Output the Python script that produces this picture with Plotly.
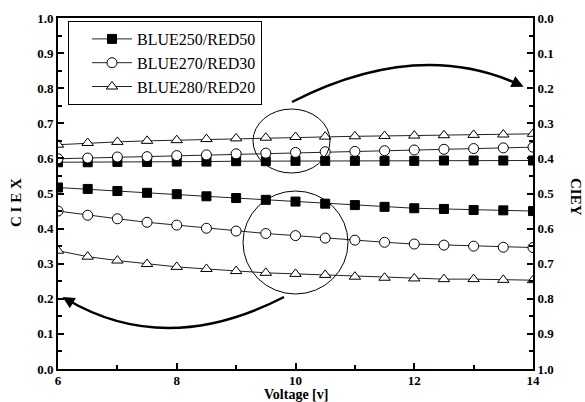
import plotly.graph_objects as go

# ---------------- data ----------------
voltage = [6, 6.5, 7, 7.5, 8, 8.5, 9, 9.5, 10, 10.5, 11, 11.5, 12, 12.5, 13, 13.5, 14]
series_names = ["BLUE250/RED50", "BLUE270/RED30", "BLUE280/RED20"]

cie_x_250 = [0.517, 0.513, 0.507, 0.502, 0.498, 0.492, 0.487, 0.482, 0.477,
             0.471, 0.467, 0.462, 0.458, 0.456, 0.453, 0.452, 0.450]
cie_x_270 = [0.450, 0.438, 0.428, 0.418, 0.410, 0.401, 0.393, 0.386, 0.380,
             0.373, 0.367, 0.361, 0.356, 0.353, 0.350, 0.347, 0.346]
cie_x_280 = [0.337, 0.320, 0.309, 0.299, 0.291, 0.285, 0.279, 0.274, 0.271,
             0.268, 0.263, 0.260, 0.258, 0.256, 0.256, 0.254, 0.253]

cie_y_250 = [0.411, 0.411, 0.410, 0.410, 0.409, 0.409, 0.408, 0.408, 0.407,
             0.407, 0.407, 0.407, 0.407, 0.406, 0.406, 0.406, 0.406]
cie_y_270 = [0.401, 0.399, 0.396, 0.395, 0.392, 0.390, 0.387, 0.385, 0.383,
             0.381, 0.380, 0.378, 0.376, 0.374, 0.372, 0.370, 0.368]
cie_y_280 = [0.361, 0.356, 0.353, 0.350, 0.348, 0.345, 0.343, 0.341, 0.339,
             0.338, 0.337, 0.336, 0.335, 0.334, 0.333, 0.332, 0.330]

x_ticks = [6, 8, 10, 12, 14]
y_ticks = [0.0, 0.1, 0.2, 0.3, 0.4, 0.5, 0.6, 0.7, 0.8, 0.9, 1.0]

# ---------------- layout geometry ----------------
W, H = 585, 402
ML, MR, MT, MB = 58, 52, 18, 33
XR = (6, 14)
YR = (0, 1)
PW, PH = W - ML - MR, H - MT - MB


def px_x(px):
    return XR[0] + (px - ML) / PW * (XR[1] - XR[0])


def px_y(py):
    return YR[0] + (H - MB - py) / PH * (YR[1] - YR[0])


FONT = "Times New Roman, Liberation Serif, serif"

symbols = [
    dict(symbol="square", size=9, color="black", line=dict(color="black", width=1)),
    dict(symbol="circle", size=10, color="white", line=dict(color="black", width=1)),
    dict(symbol="triangle-up", size=10, color="white", line=dict(color="black", width=1)),
]

fig = go.Figure()
line_style = dict(color="#222222", width=1)

for name, ys, mk in zip(series_names, [cie_x_250, cie_x_270, cie_x_280], symbols):
    fig.add_trace(go.Scatter(x=voltage, y=ys, mode="lines+markers", name=name,
                             line=line_style, marker=mk, yaxis="y"))
for name, ys, mk in zip(series_names, [cie_y_250, cie_y_270, cie_y_280], symbols):
    fig.add_trace(go.Scatter(x=voltage, y=ys, mode="lines+markers", name=name,
                             line=line_style, marker=mk, yaxis="y2", showlegend=False))

tickfont = dict(family=FONT, size=13, color="black", weight="bold")

fig.update_layout(
    width=W, height=H,
    margin=dict(l=ML, r=MR, t=MT, b=MB, pad=0),
    paper_bgcolor="white", plot_bgcolor="white",
    font=dict(family=FONT, color="black"),
    xaxis=dict(range=list(XR), tickvals=x_ticks, ticks="inside", ticklen=6,
               tickwidth=1.5, tickcolor="black", showline=True, linewidth=2,
               linecolor="black", mirror=True, showgrid=False, zeroline=False,
               tickfont=tickfont, ticklabelstandoff=-2,
               minor=dict(dtick=1, tick0=6, ticks="inside", ticklen=4,
                          tickwidth=1.5, tickcolor="black", showgrid=False)),
    yaxis=dict(range=list(YR), tickvals=y_ticks, tickformat=".1f", ticks="inside",
               ticklen=6, tickwidth=1.5, tickcolor="black", showline=True,
               linewidth=2, linecolor="black", showgrid=False, zeroline=False,
               tickfont=tickfont,
               minor=dict(dtick=0.05, tick0=0, ticks="inside", ticklen=4,
                          tickwidth=1.5, tickcolor="black", showgrid=False)),
    yaxis2=dict(range=[1, 0], tickvals=y_ticks, tickformat=".1f", overlaying="y",
                side="right", ticks="inside", ticklen=6, tickwidth=1.5,
                tickcolor="black", showline=True, linewidth=2, linecolor="black",
                showgrid=False, zeroline=False, tickfont=tickfont,
                minor=dict(dtick=0.05, tick0=0, ticks="inside", ticklen=4,
                           tickwidth=1.5, tickcolor="black", showgrid=False)),
    legend=dict(x=(68 - ML) / PW, y=(H - MB - 21) / PH,
                xanchor="left", yanchor="top", bgcolor="white",
                bordercolor="black", borderwidth=1,
                font=dict(family=FONT, size=16, color="black"),
                itemwidth=40, tracegroupgap=0, indentation=18),
    showlegend=True,
)

# ellipses
fig.add_shape(type="circle", xref="x", yref="y",
              x0=px_x(253), x1=px_x(330), y0=px_y(173), y1=px_y(109),
              line=dict(color="black", width=1))
fig.add_shape(type="circle", xref="x", yref="y",
              x0=px_x(243), x1=px_x(348), y0=px_y(294), y1=px_y(191),
              line=dict(color="black", width=1))


# curved arrows (quadratic bezier)
def curve(p0, p1, p2):
    return "M {},{} Q {},{} {},{}".format(px_x(p0[0]), px_y(p0[1]),
                                          px_x(p1[0]), px_y(p1[1]),
                                          px_x(p2[0]), px_y(p2[1]))


up = ((292, 102), (418, 38), (520, 85))
lo = ((284, 297), (166, 358), (66, 299))
for p0, p1, p2 in (up, lo):
    fig.add_shape(type="path", xref="x", yref="y", path=curve(p0, p1, p2),
                  line=dict(color="black", width=2.5))
    dx, dy = p2[0] - p1[0], p2[1] - p1[1]
    n = (dx * dx + dy * dy) ** 0.5
    fig.add_annotation(x=px_x(p2[0] + dx / n * 4), y=px_y(p2[1] + dy / n * 4),
                       xref="x", yref="y", ax=-dx / n * 12, ay=-dy / n * 12,
                       axref="pixel", ayref="pixel", text="", showarrow=True,
                       arrowhead=2, arrowsize=1.2, arrowwidth=2, arrowcolor="black")

# axis titles
fig.add_annotation(text="Voltage [v]", xref="paper", yref="paper", x=0.5, y=0,
                   yanchor="middle", yshift=-25.5, showarrow=False, borderpad=0,
                   font=dict(family=FONT, size=14, weight="bold", color="black"))
fig.add_annotation(text="C I E X", xref="paper", yref="paper", x=0, y=(H - MB - 203) / PH,
                   xanchor="center", yanchor="middle", xshift=-(ML - 16), textangle=-90,
                   showarrow=False,
                   font=dict(family=FONT, size=15, weight="bold", color="black"))
fig.add_annotation(text="CIEY", xref="paper", yref="paper", x=1, y=(H - MB - 197) / PH,
                   xanchor="center", yanchor="middle", xshift=(576 - ML - PW), textangle=90,
                   showarrow=False,
                   font=dict(family=FONT, size=15, weight="bold", color="black"))

fig.write_html("out.html")
